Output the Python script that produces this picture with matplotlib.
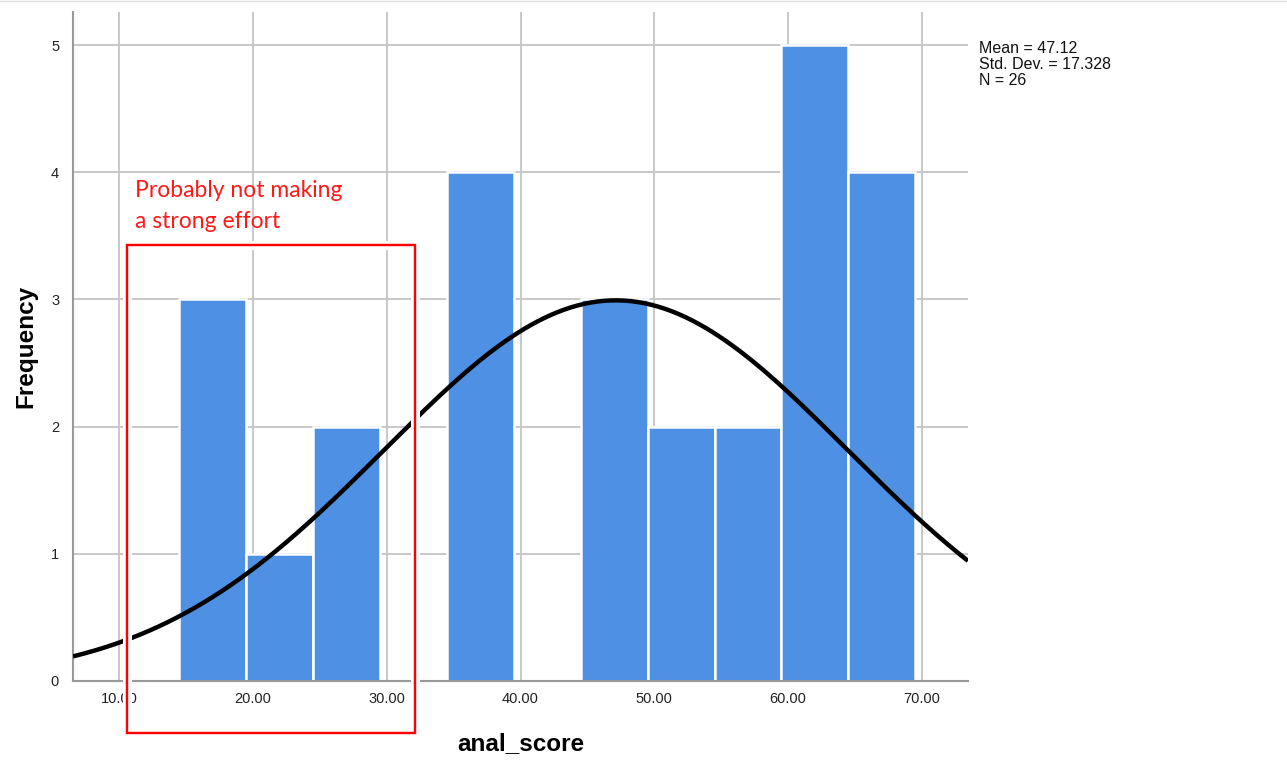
import numpy as np
import matplotlib
matplotlib.use("Agg")
import matplotlib.pyplot as plt
from matplotlib.patches import Rectangle
import matplotlib.patheffects as pe

# histogram bins (SPSS style, width 5) and counts
bin_edges = [14.5, 19.5, 24.5, 29.5, 34.5, 39.5, 44.5, 49.5, 54.5, 59.5, 64.5, 69.5]
counts = [3, 1, 2, 0, 4, 0, 3, 2, 2, 5, 4]

# summary stats shown in the chart
mean = 47.12
std_dev = 17.328
n = 26

x_ticks = [10, 20, 30, 40, 50, 60, 70]
x_tick_labels = ["10.00", "20.00", "30.00", "40.00", "50.00", "60.00", "70.00"]
y_ticks = [0, 1, 2, 3, 4, 5]

plt.rcParams['font.family'] = ['Liberation Sans', 'DejaVu Sans']

fig = plt.figure(figsize=(12.87, 7.73), dpi=100)
ax = fig.add_axes([73 / 1287, 1 - 681 / 773, (968 - 73) / 1287, (681 - 12) / 773])

edges = np.array(bin_edges)
widths = np.diff(edges)
ax.bar(edges[:-1], counts, width=widths, align='edge', color='#4e90e4',
       edgecolor='white', linewidth=1.8, zorder=2)

# normal curve fitted to mean / std dev, scaled to counts
xlim = (6.56, 73.44)
xs = np.linspace(xlim[0], xlim[1], 400)
bw = widths[0]
ys = n * bw / (std_dev * np.sqrt(2 * np.pi)) * np.exp(-0.5 * ((xs - mean) / std_dev) ** 2)
ax.plot(xs, ys, color='black', linewidth=3.2, zorder=3, solid_capstyle='butt')

ax.set_xlim(*xlim)
ax.set_ylim(0, 5.26)
ax.set_xticks(x_ticks)
ax.set_xticklabels(x_tick_labels)
ax.set_yticks(y_ticks)
ax.tick_params(axis='both', length=0, labelsize=10.5, colors='#222222')
ax.tick_params(axis='x', pad=8)
ax.tick_params(axis='y', pad=10)
ax.grid(True, color='#c8c8c8', linewidth=1.4, zorder=0)
ax.set_axisbelow(True)
for s in ['top', 'right']:
    ax.spines[s].set_visible(False)
for s in ['left', 'bottom']:
    ax.spines[s].set_color('#999999')
    ax.spines[s].set_linewidth(1.5)

ax.set_xlabel("anal_score", fontsize=17.5, fontweight='bold', labelpad=19)
ax.set_ylabel("Frequency", fontsize=17.5, fontweight='bold', labelpad=10)

fig.text(979 / 1287, 1 - 41 / 773,
         f"Mean = {mean:.2f}\nStd. Dev. = {std_dev:.3f}\nN = {n}",
         fontsize=11.5, va='top', ha='left', linespacing=1.08, color='#111111')

# red annotation
rect = Rectangle((127 / 1287, 1 - 733 / 773), (415 - 127) / 1287, (733 - 245) / 773,
                 transform=fig.transFigure, fill=False, edgecolor='#ff0000',
                 linewidth=1.6, zorder=10, clip_on=False)
rect.set_path_effects([pe.withStroke(linewidth=6.5, foreground='white'), pe.Normal()])
fig.add_artist(rect)
fig.text(135 / 1287, 1 - 180 / 773, "Probably not making\na strong effort",
         fontsize=16.5, color='#ff1a1a', va='top', ha='left', linespacing=1.6,
         family=['Lato', 'DejaVu Sans'])

fig.add_artist(plt.Line2D([0, 1], [0.999, 0.999], transform=fig.transFigure,
                          color='#dddddd', linewidth=1))

fig.savefig("out.png", dpi=100)
